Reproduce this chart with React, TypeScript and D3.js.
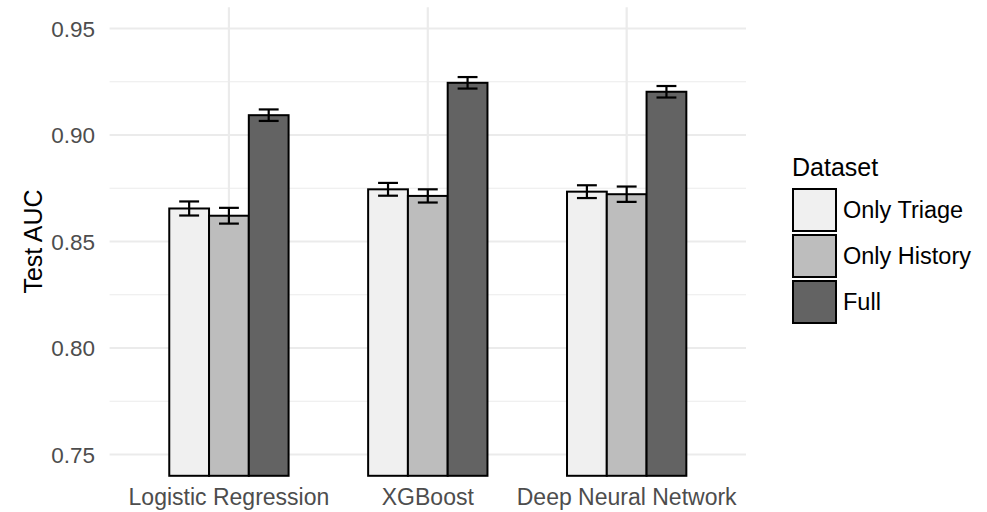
import React from 'react';
import * as d3 from 'd3';

const models = ['Logistic Regression', 'XGBoost', 'Deep Neural Network'];
const datasets = ['Only Triage', 'Only History', 'Full'];
const fills = ['#F0F0F0', '#BDBDBD', '#636363'];

// mean AUC per model, one array per dataset
const triageAuc = [0.8655, 0.8745, 0.8734];
const historyAuc = [0.8621, 0.8714, 0.8722];
const fullAuc = [0.9093, 0.9245, 0.9203];

// half-width of the error bars
const triageErr = [0.0033, 0.003, 0.003];
const historyErr = [0.0037, 0.0031, 0.0036];
const fullErr = [0.0027, 0.0027, 0.0027];

const yTicks = [0.75, 0.8, 0.85, 0.9, 0.95];
const yMinor = [0.775, 0.825, 0.875, 0.925];

const W = 987;
const H = 512;
const font = "'Liberation Sans', Arial, Helvetica, sans-serif";

const App = () => {
  const left = 109.6;
  const right = 746;
  const y = d3.scaleLinear().domain([0.74, 0.96]).range([475.8, 7.2]);

  const x = d3.scaleBand().domain(models).range([left, right]).paddingOuter(0.1).paddingInner(0);
  const step = x.bandwidth();
  const center = (m) => (x(m) as number) + step / 2;
  const groupW = step * 0.6;
  const sub = d3.scaleBand().domain(datasets).range([-groupW / 2, groupW / 2]);

  const values = [triageAuc, historyAuc, fullAuc];
  const errs = [triageErr, historyErr, fullErr];

  const bars = [];
  datasets.forEach((ds, di) => {
    models.forEach((m, mi) => {
      bars.push({ ds, di, m, v: values[di][mi], e: errs[di][mi] });
    });
  });

  return (
    <svg width={W} height={H} style={{ position: 'absolute', left: 0, top: 0 }} fontFamily={font}>
      <rect width={W} height={H} fill="#fff" />
      {/* grid */}
      {yMinor.map(t => (
        <line key={'mn' + t} x1={left} x2={right} y1={y(t)} y2={y(t)} stroke="#EBEBEB" strokeWidth={1.2} />
      ))}
      {yTicks.map(t => (
        <line key={'mj' + t} x1={left} x2={right} y1={y(t)} y2={y(t)} stroke="#EBEBEB" strokeWidth={2.2} />
      ))}
      {models.map(m => (
        <line key={'v' + m} x1={center(m)} x2={center(m)} y1={y(0.96)} y2={y(0.74)} stroke="#EBEBEB" strokeWidth={2.2} />
      ))}

      {/* bars */}
      {bars.map(b => {
        const bx = center(b.m) + (sub(b.ds) as number);
        return (
          <rect
            key={b.m + b.ds}
            x={bx}
            y={y(b.v)}
            width={sub.bandwidth()}
            height={y(0.74) - y(b.v)}
            fill={fills[b.di]}
            stroke="#000"
            strokeWidth={2}
          />
        );
      })}

      {/* error bars */}
      {bars.map(b => {
        const cx = center(b.m) + (sub(b.ds) as number) + sub.bandwidth() / 2;
        const hw = sub.bandwidth() / 4;
        return (
          <g key={'e' + b.m + b.ds} stroke="#000" strokeWidth={2.2}>
            <line x1={cx} x2={cx} y1={y(b.v + b.e)} y2={y(b.v - b.e)} />
            <line x1={cx - hw} x2={cx + hw} y1={y(b.v + b.e)} y2={y(b.v + b.e)} />
            <line x1={cx - hw} x2={cx + hw} y1={y(b.v - b.e)} y2={y(b.v - b.e)} />
          </g>
        );
      })}

      {/* y axis labels */}
      {yTicks.map(t => (
        <text key={'yl' + t} x={95} y={y(t)} dy="0.36em" textAnchor="end" fontSize={22.5} fill="#4D4D4D">
          {d3.format('.2f')(t)}
        </text>
      ))}
      <text transform={`translate(42, ${y(0.85)}) rotate(-90)`} textAnchor="middle" fontSize={25} fill="#000">
        Test AUC
      </text>

      {/* x axis labels */}
      {models.map(m => (
        <text key={'xl' + m} x={center(m)} y={505} textAnchor="middle" fontSize={23} fill="#4D4D4D">
          {m}
        </text>
      ))}

      {/* legend */}
      <text x={792} y={176} fontSize={25} fill="#000">Dataset</text>
      {datasets.map((ds, i) => (
        <g key={'lg' + ds} transform={`translate(793, ${189 + i * 46})`}>
          <rect width={43} height={42} fill={fills[i]} stroke="#000" strokeWidth={2} />
          <text x={50} y={21} dy="0.36em" fontSize={23.5} fill="#000">{ds}</text>
        </g>
      ))}
    </svg>
  );
};

export default App;
